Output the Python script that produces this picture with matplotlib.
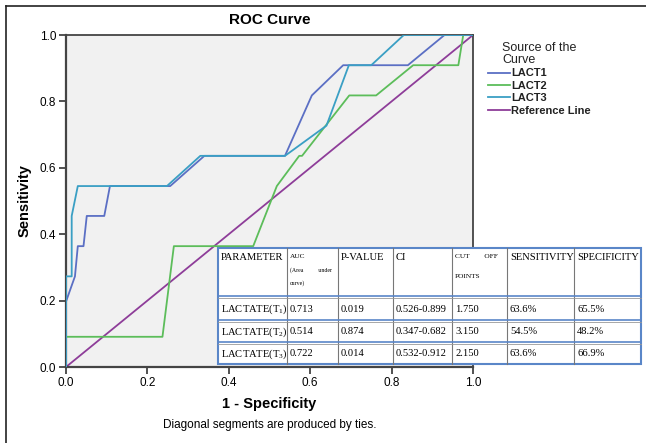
import matplotlib.pyplot as plt
from matplotlib.lines import Line2D

plt.rcParams["font.family"] = ["Liberation Sans", "DejaVu Sans"]
plt.rcParams["mathtext.fontset"] = "custom"
plt.rcParams["mathtext.rm"] = "Liberation Serif"
plt.rcParams["mathtext.it"] = "Liberation Serif:italic"

# ROC coordinates (1 - specificity, sensitivity)
lact1_x = [0.0, 0.0, 0.022, 0.029, 0.043, 0.051, 0.094, 0.108, 0.256, 0.34, 0.538, 0.604, 0.681, 0.84, 0.93, 1.0]
lact1_y = [0.0, 0.197, 0.273, 0.364, 0.364, 0.455, 0.455, 0.545, 0.545, 0.636, 0.636, 0.818, 0.909, 0.909, 1.0, 1.0]

lact2_x = [0.0, 0.0, 0.237, 0.265, 0.46, 0.518, 0.573, 0.58, 0.696, 0.762, 0.853, 0.964, 0.976, 1.0]
lact2_y = [0.0, 0.091, 0.091, 0.364, 0.364, 0.545, 0.636, 0.636, 0.818, 0.818, 0.909, 0.909, 1.0, 1.0]

lact3_x = [0.0, 0.0, 0.014, 0.014, 0.029, 0.248, 0.33, 0.538, 0.64, 0.695, 0.75, 0.83, 1.0]
lact3_y = [0.0, 0.273, 0.273, 0.455, 0.545, 0.545, 0.636, 0.636, 0.727, 0.909, 0.909, 1.0, 1.0]

ref_x = [0.0, 1.0]
ref_y = [0.0, 1.0]

# summary table
col_labels = ["PARAMETER", "AUC", "P-VALUE", "CI", "CUT        OFF", "SENSITIVITY", "SPECIFICITY"]
row_labels = ["LACTATE(T$_\\mathrm{1}$)", "LACTATE(T$_\\mathrm{2}$)", "LACTATE(T$_\\mathrm{3}$)"]
auc = ["0.713", "0.514", "0.722"]
p_value = ["0.019", "0.874", "0.014"]
ci = ["0.526-0.899", "0.347-0.682", "0.532-0.912"]
cut_off = ["1.750", "3.150", "2.150"]
sensitivity = ["63.6%", "54.5%", "63.6%"]
specificity = ["65.5%", "48.2%", "66.9%"]

c_lact1 = "#5b6fc4"
c_lact2 = "#5cbd5a"
c_lact3 = "#3a9fc4"
c_ref = "#8e3d99"

fig = plt.figure(figsize=(6.46, 4.43), dpi=100)
ax = fig.add_axes([66 / 646, 1 - 367 / 443, 407 / 646, 332 / 443])
ax.set_facecolor("#f1f1f1")

ax.plot(ref_x, ref_y, color=c_ref, lw=1.3, zorder=2)
ax.plot(lact2_x, lact2_y, color=c_lact2, lw=1.3, zorder=3)
ax.plot(lact1_x, lact1_y, color=c_lact1, lw=1.3, zorder=4)
ax.plot(lact3_x, lact3_y, color=c_lact3, lw=1.3, zorder=5)

ax.set_xlim(0, 1)
ax.set_ylim(0, 1)
ticks = [0.0, 0.2, 0.4, 0.6, 0.8, 1.0]
ax.set_xticks(ticks)
ax.set_yticks(ticks)
ax.set_xticklabels([f"{t:.1f}" for t in ticks])
ax.set_yticklabels([f"{t:.1f}" for t in ticks])
ax.tick_params(direction="out", length=5, width=1.2, labelsize=8.5, color="#333333", pad=2)
for s in ax.spines.values():
    s.set_color("#444444")
    s.set_linewidth(1.3)
ax.spines["left"].set_linewidth(1.6)
ax.spines["bottom"].set_linewidth(1.6)

ax.set_xlabel("1 - Specificity", fontsize=10.5, fontweight="bold", labelpad=6)
ax.set_ylabel("Sensitivity", fontsize=10.5, fontweight="bold", labelpad=6)
fig.text(270 / 646, 1 - 20 / 443, "ROC Curve", fontsize=11, fontweight="bold", ha="center", va="center")
fig.text(270 / 646, 1 - 425 / 443, "Diagonal segments are produced by ties.", fontsize=8.5, ha="center", va="center")

# legend on the right
handles = [Line2D([], [], color=c, lw=1.3) for c in (c_lact1, c_lact2, c_lact3, c_ref)]
leg = fig.legend(handles, ["LACT1", "LACT2", "LACT3", "Reference Line"],
                 title="Source of the\nCurve", loc="upper left",
                 bbox_to_anchor=(484 / 646, 1 - 38 / 443), frameon=False,
                 fontsize=8, title_fontsize=9, handlelength=1.9, handletextpad=0.15,
                 labelspacing=0.22, borderaxespad=0)
leg._legend_box.align = "center"
for t in leg.get_texts():
    t.set_fontweight("bold")
    t.set_color("#222222")
leg.get_title().set_color("#222222")
leg.get_title().set_linespacing(0.95)

# outer frame along top and left edges
fig.add_artist(Line2D([6 / 646, 6 / 646], [0, 1 - 6 / 443], color="#222222", lw=1.2))
fig.add_artist(Line2D([6 / 646, 1], [1 - 6 / 443, 1 - 6 / 443], color="#222222", lw=1.2))

# statistics table drawn over the plot
tab_left, tab_right = 218, 641
tab_top, tab_bottom = 248, 364
col_edges = [218, 287, 338, 393, 452, 507, 574, 641]
row_edges = [248, 296, 320, 342, 364]
serif = ["Liberation Serif", "DejaVu Serif"]
fs = 7.6


def fx(px):
    return px / 646


def fy(py):
    return 1 - py / 443


bg = plt.Rectangle((fx(tab_left), fy(tab_bottom)), fx(tab_right) - fx(tab_left),
                   fy(tab_top) - fy(tab_bottom), transform=fig.transFigure,
                   facecolor="white", edgecolor="#5a86c8", lw=1.5, zorder=10)
fig.add_artist(bg)
for x in col_edges[1:-1]:
    fig.add_artist(Line2D([fx(x), fx(x)], [fy(tab_bottom), fy(tab_top)], color="#777777", lw=0.8, zorder=11))
for y in row_edges[1:-1]:
    fig.add_artist(Line2D([fx(tab_left), fx(tab_right)], [fy(y), fy(y)], color="#5a86c8", lw=1.2, zorder=11))
    fig.add_artist(Line2D([fx(tab_left), fx(tab_right)], [fy(y + 2), fy(y + 2)], color="#999999", lw=0.6, zorder=11))

for i, lab in enumerate(col_labels):
    x = fx(col_edges[i] + 3)
    if i in (1, 4):
        fig.text(x, fy(257), lab, fontsize=5.3, family=serif, va="center", zorder=12)
    else:
        fig.text(x, fy(258), lab, fontsize=fs, family=serif, va="center", zorder=12)
fig.text(fx(col_edges[1] + 3), fy(270), "(Area          under", fontsize=4.2, family=serif, va="center", zorder=12)
fig.text(fx(col_edges[1] + 3), fy(283), "curve)", fontsize=4.2, family=serif, va="center", zorder=12)
fig.text(fx(col_edges[4] + 3), fy(276), "POINTS", fontsize=5.3, family=serif, va="center", zorder=12)

rows = list(zip(row_labels, auc, p_value, ci, cut_off, sensitivity, specificity))
for r, vals in enumerate(rows):
    yc = fy((row_edges[r + 1] + row_edges[r + 2]) / 2 + 1)
    for c, v in enumerate(vals):
        fig.text(fx(col_edges[c] + 3), yc, v, fontsize=fs, family=serif, va="center", zorder=12)

fig.savefig("out.png", dpi=100)
